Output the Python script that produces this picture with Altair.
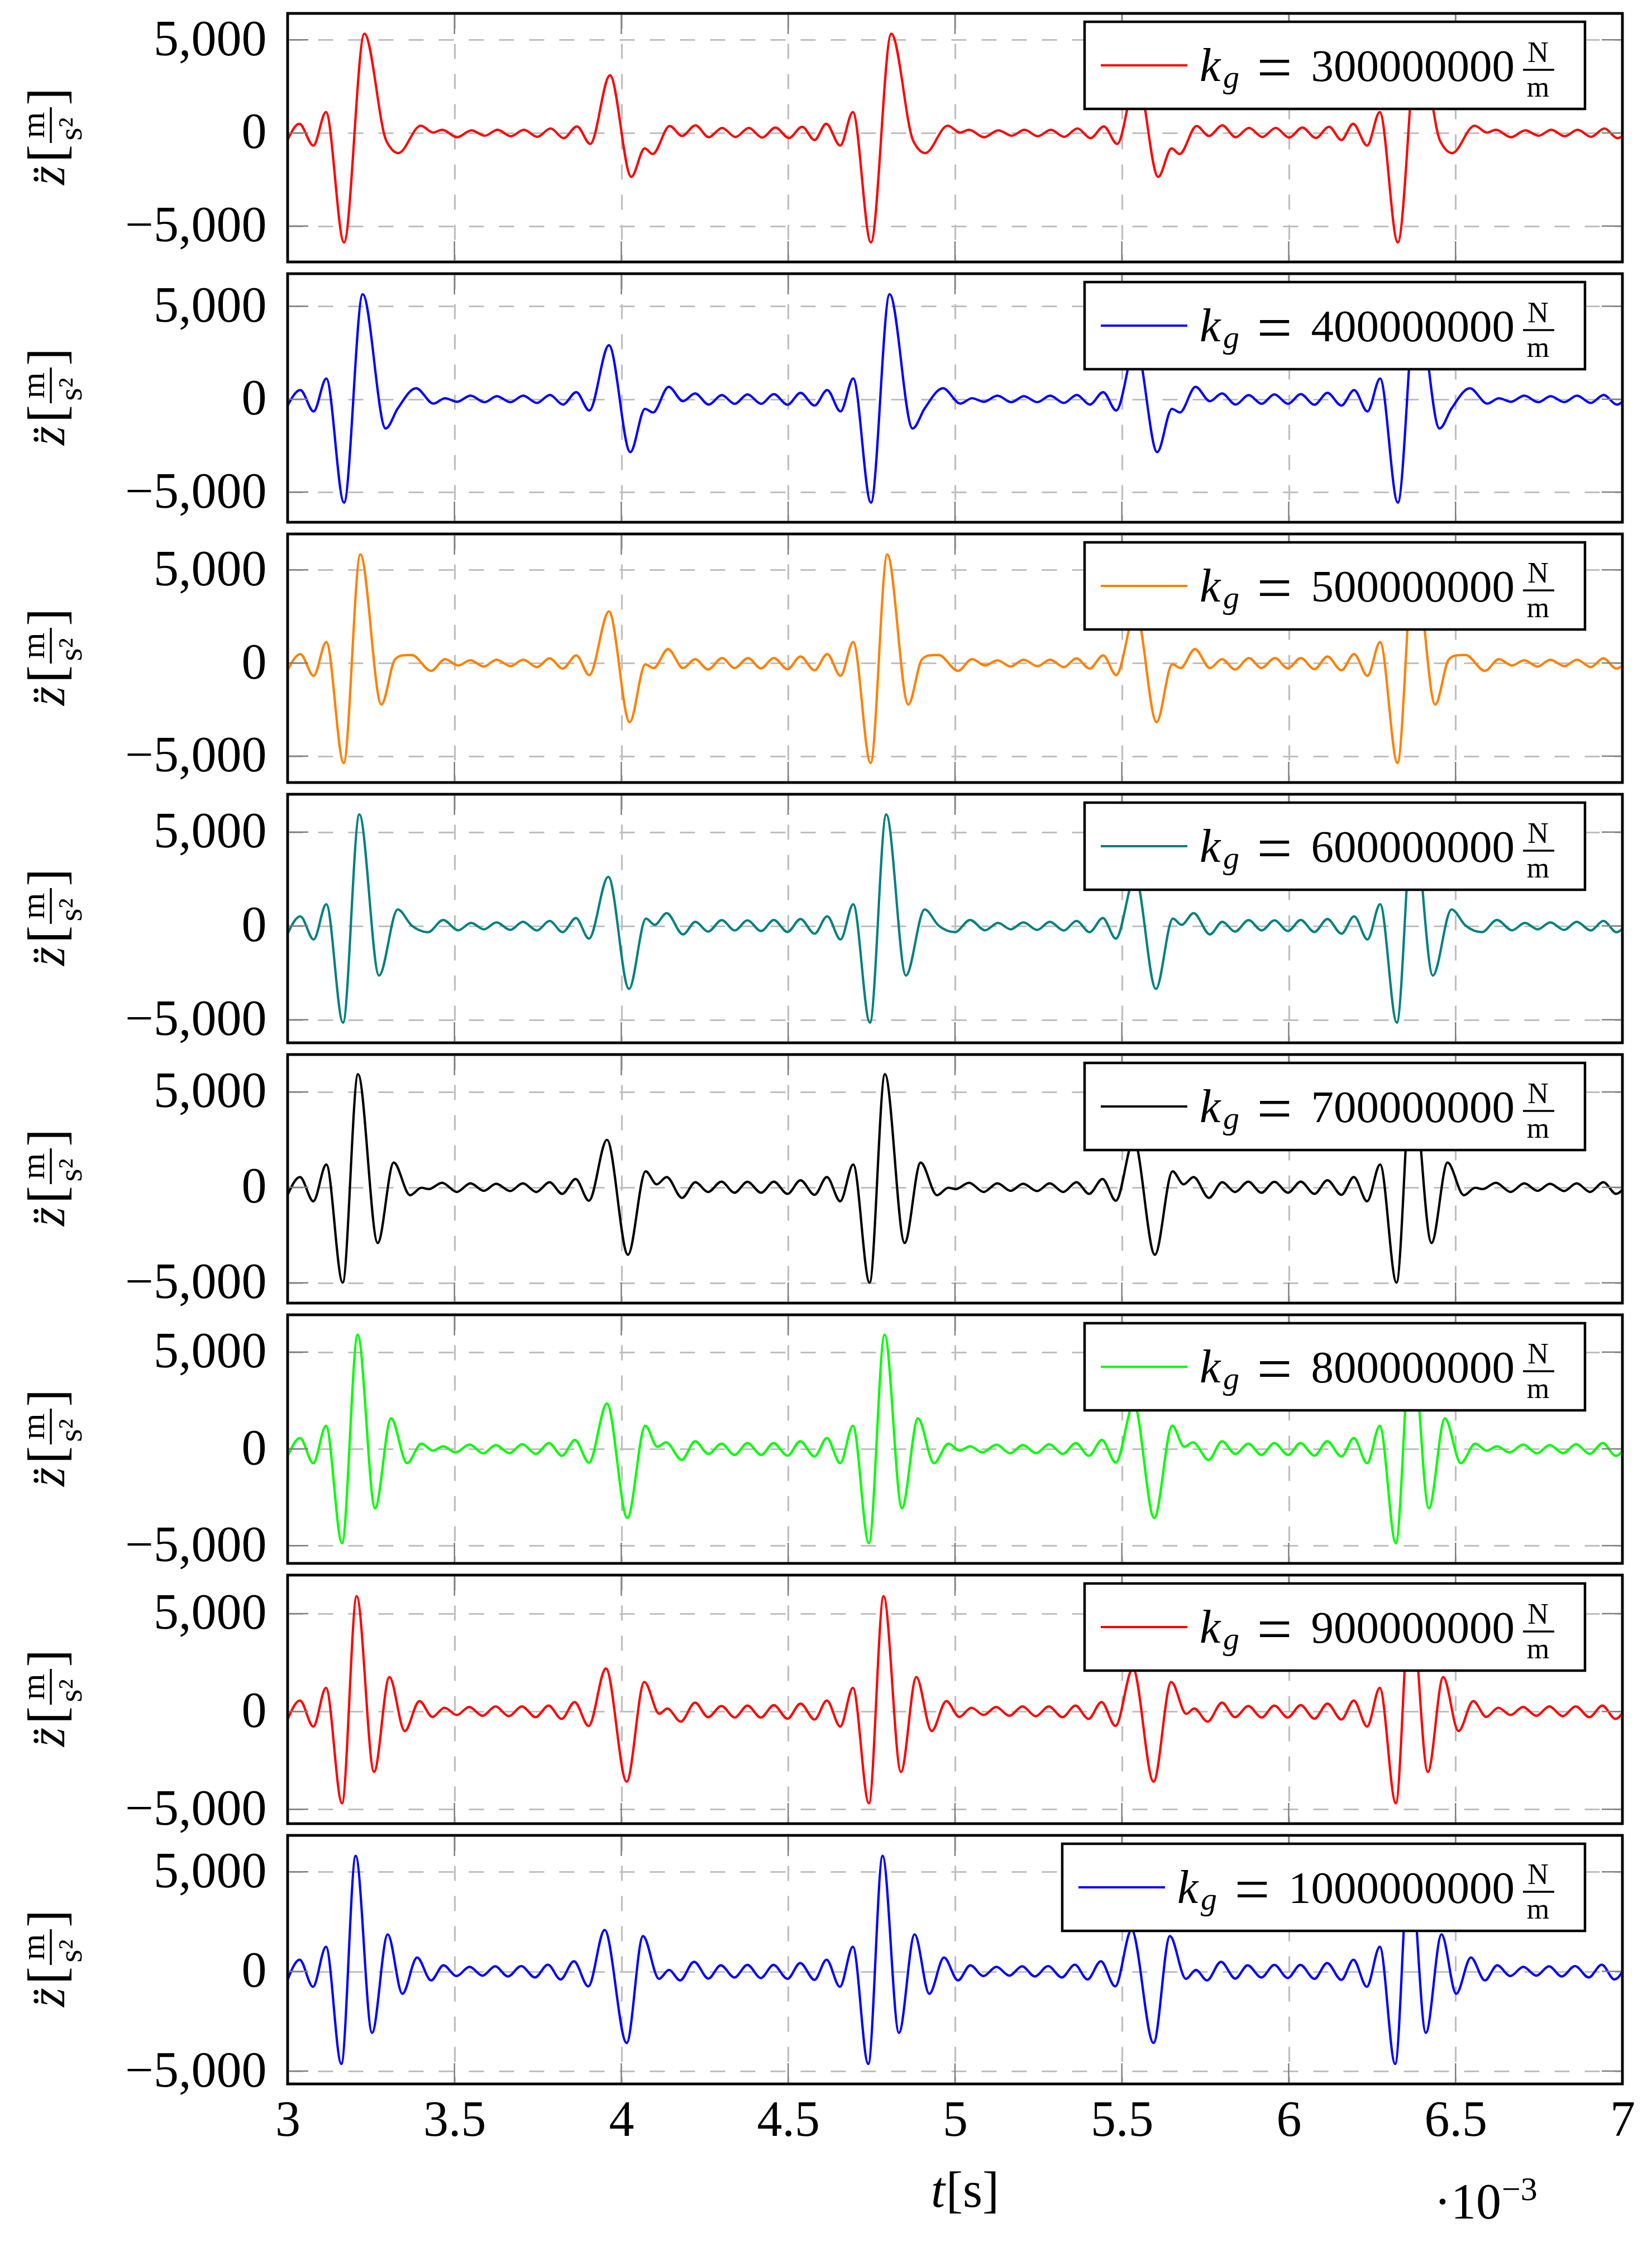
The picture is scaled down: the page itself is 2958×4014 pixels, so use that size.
import altair as alt
import pandas as pd

# spring stiffness of each panel and its line colour
KG = [300000000, 400000000, 500000000, 600000000,
      700000000, 800000000, 900000000, 1000000000]
COLORS = ["#ff0000", "#0000ff", "#ff8000", "#008080",
          "#000000", "#00ff00", "#ff0000", "#0000ff"]
Y_DOMAINS = [[-6923, 6413], [-6623, 6754], [-6419, 6931], [-6224, 7017],
             [-6062, 6959], [-5915, 6927], [-5732, 6968], [-5644, 6828]]
X_TICKS = [3, 3.5, 4, 4.5, 5, 5.5, 6, 6.5, 7]
Y_TICKS = [-5000, 0, 5000]

# t in 10^-3 s, acceleration in m/s^2 (turning points)
T1 = [3.000, 3.035, 3.077, 3.115, 3.169, 3.230, 3.296, 3.332, 3.399, 3.436, 3.463, 3.508, 3.551,
      3.591, 3.629, 3.669, 3.708, 3.748, 3.788, 3.827, 3.867, 3.907, 3.966, 4.030, 4.070, 4.094,
      4.145, 4.182, 4.222, 4.262, 4.302, 4.342, 4.382, 4.422, 4.462, 4.502, 4.542,
      4.579, 4.614, 4.656, 4.694, 4.748, 4.809, 4.875, 4.911, 4.978, 5.015, 5.042, 5.087, 5.130,
      5.170, 5.208, 5.248, 5.287, 5.327, 5.367, 5.406, 5.446, 5.486, 5.545, 5.609, 5.649, 5.673,
      5.724, 5.761, 5.801, 5.841, 5.881, 5.921, 5.961, 6.001, 6.041, 6.081, 6.121,
      6.158, 6.193, 6.235, 6.273, 6.327, 6.388, 6.454, 6.490, 6.557, 6.594, 6.621, 6.666, 6.709,
      6.749, 6.787, 6.827, 6.866, 6.906, 6.946, 6.985, 7.025]
A1 = [-380, 490, -680, 1120, -5880, 5320, -430, -1080, 390, 20, 170, -230, 140,
      -150, 170, -180, 170, -210, 240, -280, 350, -590, 3090, -2360, -830, -1130,
      370, -160, 410, -230, 270, -220, 270, -250, 290, -270, 330,
      -380, 490, -680, 1120, -5880, 5320, -430, -1080, 390, 20, 170, -230, 140,
      -150, 170, -180, 170, -210, 240, -280, 350, -590, 3090, -2360, -830, -1130,
      370, -160, 410, -230, 270, -220, 270, -250, 290, -270, 330,
      -380, 490, -680, 1120, -5880, 5320, -430, -1080, 390, 20, 170, -230, 140,
      -150, 170, -180, 170, -210, 240, -280, 350]

T2 = [3.000, 3.038, 3.078, 3.116, 3.169, 3.225, 3.294, 3.330, 3.385, 3.437, 3.472, 3.508, 3.548,
      3.590, 3.627, 3.668, 3.706, 3.747, 3.786, 3.825, 3.865, 3.904, 3.963, 4.027, 4.071, 4.095,
      4.142, 4.185, 4.221, 4.262, 4.301, 4.340, 4.378, 4.419, 4.457, 4.498, 4.537,
      4.579, 4.617, 4.657, 4.695, 4.748, 4.804, 4.873, 4.909, 4.964, 5.016, 5.051, 5.087, 5.127,
      5.169, 5.206, 5.247, 5.285, 5.326, 5.365, 5.404, 5.444, 5.483, 5.542, 5.606, 5.650, 5.674,
      5.721, 5.764, 5.800, 5.841, 5.880, 5.919, 5.957, 5.998, 6.036, 6.077, 6.116,
      6.158, 6.196, 6.236, 6.274, 6.327, 6.383, 6.452, 6.488, 6.543, 6.595, 6.630, 6.666, 6.706,
      6.748, 6.785, 6.826, 6.864, 6.905, 6.944, 6.983, 7.023]
A2 = [-340, 490, -660, 1115, -5570, 5650, -1580, -500, 590, -240, 50, -140, 190,
      -160, 160, -160, 190, -200, 230, -290, 380, -610, 2900, -2850, -520, -710,
      660, -110, 310, -290, 220, -250, 260, -250, 270, -300, 340,
      -340, 490, -660, 1115, -5570, 5650, -1580, -500, 590, -240, 50, -140, 190,
      -160, 160, -160, 190, -200, 230, -290, 380, -610, 2900, -2850, -520, -710,
      660, -110, 310, -290, 220, -250, 260, -250, 270, -300, 340,
      -340, 490, -660, 1115, -5570, 5650, -1580, -500, 590, -240, 50, -140, 190,
      -160, 160, -160, 190, -200, 230, -290, 380]

T3 = [3.000, 3.038, 3.078, 3.116, 3.168, 3.218, 3.281, 3.322, 3.345, 3.372, 3.430, 3.472, 3.511,
      3.548, 3.588, 3.626, 3.668, 3.706, 3.747, 3.785, 3.824, 3.865, 3.904, 3.963, 4.025, 4.072,
      4.097, 4.140, 4.185, 4.221, 4.260, 4.302, 4.339, 4.380, 4.418, 4.457, 4.498, 4.537,
      4.579, 4.617, 4.657, 4.695, 4.747, 4.797, 4.860, 4.901, 4.924, 4.951, 5.009, 5.051, 5.090,
      5.127, 5.167, 5.205, 5.247, 5.285, 5.326, 5.364, 5.403, 5.444, 5.483, 5.542, 5.604, 5.651,
      5.676, 5.719, 5.764, 5.800, 5.839, 5.881, 5.918, 5.959, 5.997, 6.036, 6.077, 6.116,
      6.158, 6.196, 6.236, 6.274, 6.326, 6.376, 6.439, 6.480, 6.503, 6.530, 6.588, 6.630, 6.669,
      6.706, 6.746, 6.784, 6.826, 6.864, 6.905, 6.943, 6.982, 7.023]
A3 = [-390, 480, -690, 1130, -5370, 5830, -2230, 200, 410, 430, -420, 210, -130,
      150, -190, 180, -170, 180, -220, 250, -300, 410, -650, 2770, -3180, -70,
      -270, 750, -270, 210, -350, 270, -270, 270, -290, 270, -330, 350,
      -390, 480, -690, 1130, -5370, 5830, -2230, 200, 410, 430, -420, 210, -130,
      150, -190, 180, -170, 180, -220, 250, -300, 410, -650, 2770, -3180, -70,
      -270, 750, -270, 210, -350, 270, -270, 270, -290, 270, -330, 350,
      -390, 480, -690, 1130, -5370, 5830, -2230, 200, 410, 430, -420, 210, -130,
      150, -190, 180, -170, 180, -220, 250, -300, 410]

T4 = [3.000, 3.038, 3.078, 3.116, 3.166, 3.215, 3.274, 3.330, 3.372, 3.421, 3.466, 3.511, 3.550,
      3.588, 3.626, 3.667, 3.705, 3.747, 3.785, 3.824, 3.864, 3.903, 3.961, 4.023, 4.074, 4.100,
      4.136, 4.185, 4.222, 4.260, 4.301, 4.340, 4.378, 4.419, 4.457, 4.498, 4.537,
      4.579, 4.617, 4.657, 4.695, 4.745, 4.794, 4.853, 4.909, 4.951, 5.000, 5.045, 5.090, 5.129,
      5.167, 5.205, 5.246, 5.284, 5.326, 5.364, 5.403, 5.443, 5.482, 5.540, 5.602, 5.653, 5.679,
      5.715, 5.764, 5.801, 5.839, 5.880, 5.919, 5.957, 5.998, 6.036, 6.077, 6.116,
      6.158, 6.196, 6.236, 6.274, 6.324, 6.373, 6.432, 6.488, 6.530, 6.579, 6.624, 6.669, 6.708,
      6.746, 6.784, 6.825, 6.863, 6.905, 6.943, 6.982, 7.022]
A4 = [-410, 515, -720, 1160, -5150, 5940, -2640, 880, 20, -330, 320, -230, 160,
      -180, 190, -210, 220, -240, 270, -330, 420, -670, 2620, -3350, 390, 60,
      680, -450, 220, -300, 310, -240, 300, -270, 320, -320, 370,
      -410, 515, -720, 1160, -5150, 5940, -2640, 880, 20, -330, 320, -230, 160,
      -180, 190, -210, 220, -240, 270, -330, 420, -670, 2620, -3350, 390, 60,
      680, -450, 220, -300, 310, -240, 300, -270, 320, -320, 370,
      -410, 515, -720, 1160, -5150, 5940, -2640, 880, 20, -330, 320, -230, 160,
      -180, 190, -210, 220, -240, 270, -330, 420]

T5 = [3.000, 3.037, 3.077, 3.116, 3.165, 3.211, 3.270, 3.318, 3.367, 3.401, 3.423, 3.463, 3.507,
      3.548, 3.588, 3.625, 3.667, 3.705, 3.745, 3.785, 3.823, 3.863, 3.903, 3.957, 4.020, 4.073,
      4.106, 4.136, 4.182, 4.222, 4.260, 4.300, 4.339, 4.378, 4.419, 4.457, 4.498, 4.537,
      4.579, 4.616, 4.656, 4.695, 4.744, 4.790, 4.849, 4.897, 4.946, 4.980, 5.002, 5.042, 5.086,
      5.127, 5.167, 5.204, 5.246, 5.284, 5.324, 5.364, 5.402, 5.442, 5.482, 5.536, 5.599, 5.652,
      5.685, 5.715, 5.761, 5.801, 5.839, 5.879, 5.918, 5.957, 5.998, 6.036, 6.077, 6.116,
      6.158, 6.195, 6.235, 6.274, 6.323, 6.369, 6.428, 6.476, 6.525, 6.559, 6.581, 6.621, 6.665,
      6.706, 6.746, 6.783, 6.825, 6.863, 6.903, 6.943, 6.981, 7.021]
A5 = [-390, 540, -730, 1200, -4990, 5930, -2910, 1300, -410, -20, -90, 240, -240,
      210, -180, 190, -190, 210, -240, 270, -340, 440, -700, 2490, -3530, 840,
      160, 540, -550, 270, -240, 300, -280, 290, -280, 300, -340, 370,
      -390, 540, -730, 1200, -4990, 5930, -2910, 1300, -410, -20, -90, 240, -240,
      210, -180, 190, -190, 210, -240, 270, -340, 440, -700, 2490, -3530, 840,
      160, 540, -550, 270, -240, 300, -280, 290, -280, 300, -340, 370,
      -390, 540, -730, 1200, -4990, 5930, -2910, 1300, -410, -20, -90, 240, -240,
      210, -180, 190, -190, 210, -240, 270, -340, 440]

T6 = [3.000, 3.037, 3.077, 3.115, 3.163, 3.210, 3.262, 3.310, 3.358, 3.401, 3.435, 3.466, 3.503,
      3.545, 3.586, 3.624, 3.664, 3.703, 3.744, 3.783, 3.822, 3.861, 3.903, 3.957, 4.018, 4.072,
      4.108, 4.134, 4.181, 4.221, 4.261, 4.300, 4.339, 4.378, 4.419, 4.456, 4.498, 4.536,
      4.579, 4.616, 4.656, 4.694, 4.742, 4.789, 4.841, 4.889, 4.937, 4.980, 5.014, 5.045, 5.082,
      5.124, 5.165, 5.203, 5.243, 5.282, 5.323, 5.362, 5.401, 5.440, 5.482, 5.536, 5.597, 5.651,
      5.687, 5.713, 5.760, 5.800, 5.840, 5.879, 5.918, 5.957, 5.998, 6.035, 6.077, 6.115,
      6.158, 6.195, 6.235, 6.273, 6.321, 6.368, 6.420, 6.468, 6.516, 6.559, 6.593, 6.624, 6.661,
      6.703, 6.744, 6.782, 6.822, 6.861, 6.902, 6.941, 6.980, 7.019]
A6 = [-395, 560, -740, 1195, -4870, 5900, -3070, 1580, -740, 270, -90, 135, -180,
      220, -230, 200, -220, 240, -260, 300, -360, 460, -710, 2340, -3570, 1195,
      110, 340, -570, 395, -260, 270, -310, 300, -310, 300, -350, 395,
      -395, 560, -740, 1195, -4870, 5900, -3070, 1580, -740, 270, -90, 135, -180,
      220, -230, 200, -220, 240, -260, 300, -360, 460, -710, 2340, -3570, 1195,
      110, 340, -570, 395, -260, 270, -310, 300, -310, 300, -350, 395,
      -395, 560, -740, 1195, -4870, 5900, -3070, 1580, -740, 270, -90, 135, -180,
      220, -230, 200, -220, 240, -260, 300, -360, 460]

T7 = [3.000, 3.037, 3.077, 3.115, 3.163, 3.207, 3.259, 3.305, 3.351, 3.395, 3.434, 3.470, 3.507,
      3.544, 3.584, 3.623, 3.663, 3.702, 3.743, 3.782, 3.821, 3.860, 3.902, 3.954, 4.016, 4.069,
      4.114, 4.138, 4.178, 4.221, 4.260, 4.300, 4.340, 4.378, 4.418, 4.457, 4.498, 4.537,
      4.579, 4.616, 4.656, 4.694, 4.742, 4.786, 4.838, 4.884, 4.930, 4.974, 5.013, 5.049, 5.086,
      5.123, 5.163, 5.202, 5.242, 5.281, 5.322, 5.361, 5.400, 5.439, 5.481, 5.533, 5.595, 5.648,
      5.693, 5.717, 5.757, 5.800, 5.839, 5.879, 5.919, 5.957, 5.997, 6.036, 6.077, 6.116,
      6.158, 6.195, 6.235, 6.273, 6.321, 6.365, 6.417, 6.463, 6.509, 6.553, 6.592, 6.628, 6.665,
      6.702, 6.742, 6.781, 6.821, 6.860, 6.901, 6.940, 6.979, 7.018]
A7 = [-410, 560, -770, 1210, -4690, 5890, -3090, 1760, -1000, 530, -280, 190, -180,
      230, -220, 260, -240, 260, -290, 300, -380, 480, -740, 2200, -3590, 1510,
      -120, 150, -520, 450, -290, 280, -310, 300, -310, 320, -370, 400,
      -410, 560, -770, 1210, -4690, 5890, -3090, 1760, -1000, 530, -280, 190, -180,
      230, -220, 260, -240, 260, -290, 300, -380, 480, -740, 2200, -3590, 1510,
      -120, 150, -520, 450, -290, 280, -310, 300, -310, 320, -370, 400,
      -410, 560, -770, 1210, -4690, 5890, -3090, 1760, -1000, 530, -280, 190, -180,
      230, -220, 260, -240, 260, -290, 300, -380, 480]

T8 = [3.000, 3.036, 3.076, 3.115, 3.161, 3.204, 3.253, 3.300, 3.344, 3.388, 3.430, 3.467, 3.506,
      3.545, 3.584, 3.622, 3.660, 3.700, 3.741, 3.780, 3.818, 3.858, 3.901, 3.950, 4.016, 4.065,
      4.113, 4.143, 4.176, 4.218, 4.261, 4.298, 4.339, 4.378, 4.418, 4.456, 4.498, 4.536,
      4.579, 4.615, 4.655, 4.694, 4.740, 4.783, 4.832, 4.879, 4.923, 4.967, 5.009, 5.046, 5.085,
      5.124, 5.163, 5.201, 5.239, 5.279, 5.320, 5.359, 5.397, 5.437, 5.480, 5.529, 5.595, 5.644,
      5.692, 5.722, 5.755, 5.797, 5.840, 5.877, 5.918, 5.957, 5.997, 6.035, 6.077, 6.115,
      6.158, 6.194, 6.234, 6.273, 6.319, 6.362, 6.411, 6.458, 6.502, 6.546, 6.588, 6.625, 6.664,
      6.703, 6.742, 6.780, 6.818, 6.858, 6.899, 6.938, 6.976, 7.016]
A8 = [-420, 590, -770, 1240, -4640, 5800, -3080, 1860, -1120, 700, -450, 310, -230,
      230, -210, 260, -250, 270, -300, 340, -400, 510, -750, 2080, -3590, 1770,
      -370, 75, -450, 485, -355, 310, -300, 330, -330, 330, -370, 420,
      -420, 590, -770, 1240, -4640, 5800, -3080, 1860, -1120, 700, -450, 310, -230,
      230, -210, 260, -250, 270, -300, 340, -400, 510, -750, 2080, -3590, 1770,
      -370, 75, -450, 485, -355, 310, -300, 330, -330, 330, -370, 420,
      -420, 590, -770, 1240, -4640, 5800, -3080, 1860, -1120, 700, -450, 310, -230,
      230, -210, 260, -250, 270, -300, 340, -400, 510]

SERIES = [(T1, A1), (T2, A2), (T3, A3), (T4, A4), (T5, A5), (T6, A6), (T7, A7), (T8, A8)]

W, H = 2390, 445
FONT = "Liberation Serif"
GRID = "#bfbfbf"
TICK = "#808080"
one = pd.DataFrame({"d": [0]})


def label(text, x, y, size, **kw):
    return alt.Chart(one).mark_text(text=text, font=FONT, fontSize=size, color="black",
                                    **kw).encode(x=alt.value(x), y=alt.value(y))


def rule(x, x2, y, y2, color="black", width=3.5, opacity=1):
    return alt.Chart(one).mark_rule(color=color, strokeWidth=width, opacity=opacity).encode(
        x=alt.value(x), x2=alt.value(x2), y=alt.value(y), y2=alt.value(y2))


def panel(i, last):
    t, a = SERIES[i]
    df = pd.DataFrame({"t": t, "a": a})
    xs = alt.Scale(domain=[3, 7], nice=False, zero=False)
    ys = alt.Scale(domain=Y_DOMAINS[i], nice=False, zero=False)
    x_axis = alt.Axis(values=X_TICKS, grid=True, labels=last, ticks=False, domain=False,
                      title=None, labelExpr="format(datum.value, '.1~f')", labelFont=FONT,
                      labelFontSize=90, labelPadding=21, labelFlush=False, labelLimit=600,
                      labelColor="black", gridDash=[27, 27], gridColor=GRID, gridWidth=3.2)
    y_axis = alt.Axis(values=Y_TICKS, grid=True, ticks=False, domain=False, title=None,
                      labelExpr="format(datum.value, ',')", labelFont=FONT, labelFontSize=90,
                      labelPadding=38, labelLimit=600, labelColor="black",
                      gridDash=[27, 27], gridColor=GRID, gridWidth=3.2)
    xenc = alt.X("t:Q", scale=xs, axis=x_axis)
    yenc = alt.Y("a:Q", scale=ys, axis=y_axis)

    line = alt.Chart(df).mark_line(interpolate="monotone", clip=True, color=COLORS[i],
                                   strokeWidth=4.2).encode(x=xenc, y=yenc)

    # short inner tick marks on all four sides
    yt = pd.DataFrame({"a": Y_TICKS})
    xt = pd.DataFrame({"t": X_TICKS[1:-1]})
    ytick = alt.Chart(yt).mark_rule(color=TICK, strokeWidth=2.5)
    xtick = alt.Chart(xt).mark_rule(color=TICK, strokeWidth=2.5)
    ticks = [
        ytick.encode(y=yenc, x=alt.value(0), x2=alt.value(37)),
        ytick.encode(y=yenc, x=alt.value(W - 37), x2=alt.value(W)),
        xtick.encode(x=xenc, y=alt.value(0), y2=alt.value(37)),
        xtick.encode(x=xenc, y=alt.value(H - 37), y2=alt.value(H)),
    ]

    # solid black frame drawn above the grid lines that sit on the edges
    frame = alt.Chart(one).mark_rect(fill=None, fillOpacity=0, stroke="black",
                                     strokeWidth=4.5).encode(
        x=alt.value(0), x2=alt.value(W), y=alt.value(0), y2=alt.value(H))

    # legend box, anchored to the upper right corner
    digits = str(KG[i])
    br = W - 67
    bl = br - 896 - 40 * (len(digits) - 9)
    legend = [
        alt.Chart(one).mark_rect(fill="white", stroke="black", strokeWidth=4.5).encode(
            x=alt.value(bl), x2=alt.value(br), y=alt.value(15), y2=alt.value(171)),
        rule(bl + 29, bl + 184, 93, 93, color=COLORS[i], width=4.2),
        label("k", bl + 206, 121, 84, align="left", baseline="alphabetic", fontStyle="italic"),
        label("g", bl + 248, 133, 58, align="left", baseline="alphabetic", fontStyle="italic"),
        label("=", bl + 340, 134, 112, align="center", baseline="alphabetic"),
        label(digits, br - 126, 121, 81, align="right", baseline="alphabetic"),
        label("N", br - 84, 87, 52, align="center", baseline="alphabetic"),
        rule(br - 111, br - 55, 101, 101, width=3.5),
        label("m", br - 84, 149, 52, align="center", baseline="alphabetic"),
    ]

    # rotated y title: z-double-dot [m / s^2]
    ytitle = [
        rule(-504, -504, 0, 10, opacity=0),
        label("z\u0308", -400, 290, 88, angle=270, align="center", baseline="alphabetic",
              fontStyle="italic"),
        label("[", -400, 251, 95, angle=270, align="center", baseline="alphabetic"),
        label("m", -436, 200, 60, angle=270, align="center", baseline="alphabetic"),
        rule(-424, -424, 168, 232, width=3.5),
        label("s\u00b2", -369, 207, 60, angle=270, align="center", baseline="alphabetic"),
        label("]", -400, 149, 95, angle=270, align="center", baseline="alphabetic"),
    ]

    extra = []
    if last:
        extra = [
            label("t", 1177, 665, 90, align="right", baseline="alphabetic", fontStyle="italic"),
            label("[s]", 1179, 665, 90, align="left", baseline="alphabetic"),
            label("\u00b710", 2053, 686, 90, align="left", baseline="alphabetic"),
            label("\u22123", 2174, 653, 60, align="left", baseline="alphabetic"),
        ]

    return alt.layer(line, *ticks, frame, *legend, *ytitle, *extra).properties(width=W, height=H)


panels = [panel(i, i == len(KG) - 1) for i in range(len(KG))]

chart = alt.vconcat(*panels, spacing=21, bounds="flush").properties(
    padding={"left": 0, "top": 11, "right": 10, "bottom": 10}
).configure_view(stroke="black", strokeWidth=4.5)

chart.save("out.html", embed_options={"renderer": "svg", "actions": False})
